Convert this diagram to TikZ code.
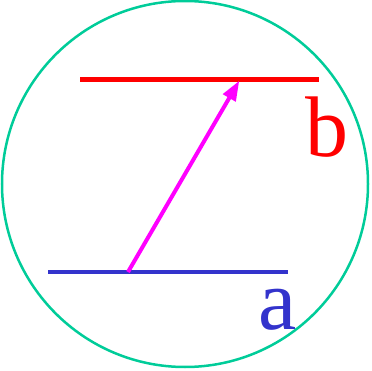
\documentclass[tikz,border=0pt]{standalone}
\usepackage{fontspec}
\setmainfont{Liberation Serif}
\usetikzlibrary{arrows.meta}
\definecolor{ringcol}{HTML}{00CC99}
\definecolor{acol}{HTML}{3333CC}
\definecolor{bcol}{HTML}{FF0000}
\definecolor{vcol}{HTML}{FF00FF}

\begin{document}
\begin{tikzpicture}[x=1pt, y=1pt]
    \useasboundingbox (0,0) rectangle (372,370);
    % circle
    \path[draw, ringcol, line width=2.5pt](185,186) circle (183);
    % lines
    \coordinate(A1)at(48,98);
    \coordinate(A2)at(288,98);
    \coordinate(B1)at(80,290.3);
    \coordinate(B2)at(319,290.3);
    \path[draw, acol, line width=4.5pt](A1)to(A2);
    \path[draw, bcol, line width=5.5pt](B1)to(B2);
    % arrow
    \coordinate(P)at(128,98);
    \coordinate(Q)at(239.3,289.3);
    \path[draw, vcol, line width=4pt, -{Triangle[length=20pt, width=14pt]}](P)to(Q);
    % labels
    \node[acol, anchor=base, inner sep=0pt, font=\fontsize{86}{86}\selectfont](a)at(278,41){a};
    \node[bcol, anchor=base, inner sep=0pt, font=\fontsize{86}{86}\selectfont](b)at(327,213){b};
\end{tikzpicture}
\end{document}
